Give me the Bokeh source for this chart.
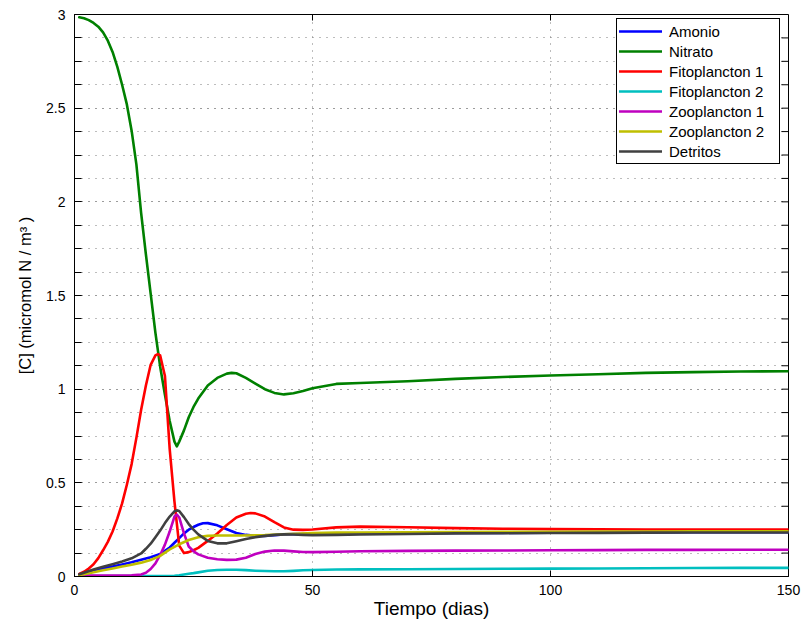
import math
from bokeh.plotting import figure
from bokeh.models import (Range1d, FixedTicker, Legend, LegendItem, CustomJSTickFormatter)
from bokeh.embed import file_html
from bokeh.resources import INLINE

# ---------------- data ----------------
t_amonio = [1, 2, 4, 6, 8, 10, 12, 14, 16, 18, 20, 21, 22, 23, 24, 25, 26, 27, 28, 30,
            32, 34, 36, 38, 40, 42, 44, 46, 48, 50, 55, 60, 70, 80, 90, 100, 110, 120,
            130, 140, 150]
amonio = [0.012, 0.016, 0.03, 0.042, 0.053, 0.064, 0.076, 0.09, 0.103, 0.12, 0.155, 0.18,
          0.205, 0.23, 0.25, 0.264, 0.276, 0.284, 0.285, 0.273, 0.252, 0.232, 0.222, 0.217,
          0.216, 0.22, 0.225, 0.227, 0.226, 0.225, 0.227, 0.229, 0.23, 0.232, 0.233, 0.234,
          0.235, 0.235, 0.236, 0.236, 0.236]

t_nitrato = [1, 2, 3, 4, 5, 6, 7, 8, 9, 10, 11, 12, 13, 14, 15, 16, 17, 18, 19, 20, 21,
             21.5, 22, 23, 24, 25, 26, 28, 30, 32, 33, 34, 36, 38, 40, 42, 44, 46, 48, 50,
             55, 60, 70, 80, 90, 100, 110, 120, 130, 140, 150]
nitrato = [2.985, 2.98, 2.97, 2.955, 2.935, 2.905, 2.86, 2.80, 2.72, 2.625, 2.52, 2.38,
           2.20, 1.94, 1.72, 1.51, 1.30, 1.12, 0.97, 0.83, 0.72, 0.695, 0.72, 0.78, 0.85,
           0.905, 0.95, 1.02, 1.06, 1.083, 1.087, 1.085, 1.06, 1.03, 1.00, 0.98, 0.972,
           0.978, 0.99, 1.005, 1.028, 1.033, 1.042, 1.055, 1.065, 1.073, 1.08, 1.087, 1.091,
           1.094, 1.096]

t_fito1 = [1, 2, 3, 4, 5, 6, 7, 8, 9, 10, 11, 12, 13, 14, 15, 16, 17, 17.5, 18, 19, 20, 21,
           22, 23, 24, 25, 26, 28, 30, 32, 34, 36, 37, 38, 40, 42, 44, 46, 48, 50, 55, 60,
           70, 80, 90, 100, 110, 120, 130, 140, 150]
fito1 = [0.014, 0.025, 0.043, 0.065, 0.098, 0.14, 0.185, 0.24, 0.31, 0.39, 0.49, 0.60,
         0.74, 0.89, 1.02, 1.13, 1.18, 1.187, 1.18, 1.07, 0.68, 0.40, 0.165, 0.125, 0.13,
         0.14, 0.153, 0.19, 0.23, 0.275, 0.315, 0.335, 0.339, 0.337, 0.32, 0.29, 0.262,
         0.25, 0.249, 0.251, 0.262, 0.266, 0.263, 0.258, 0.255, 0.253, 0.252, 0.251, 0.25,
         0.25, 0.25]

t_fito2 = [1, 5, 10, 15, 18, 20, 21, 22, 23, 24, 25, 26, 28, 30, 32, 34, 36, 38, 40, 42,
           44, 46, 48, 50, 55, 60, 70, 80, 90, 100, 110, 120, 130, 140, 150]
fito2 = [0.002, 0.002, 0.002, 0.002, 0.002, 0.003, 0.004, 0.007, 0.011, 0.015, 0.018, 0.022,
         0.031, 0.035, 0.036, 0.036, 0.034, 0.031, 0.029, 0.028, 0.028, 0.03, 0.033, 0.035,
         0.037, 0.038, 0.039, 0.04, 0.041, 0.042, 0.043, 0.044, 0.045, 0.046, 0.046]

t_zoo1 = [1, 4, 8, 12, 14, 15, 16, 17, 18, 19, 20, 21, 21.5, 22, 23, 24, 25, 26, 28, 30, 32,
          34, 36, 38, 40, 42, 44, 46, 48, 50, 55, 60, 70, 80, 90, 100, 110, 120, 130, 140, 150]
zoo1 = [0.005, 0.005, 0.005, 0.006, 0.011, 0.02, 0.04, 0.07, 0.115, 0.17, 0.24, 0.32, 0.33,
        0.315, 0.23, 0.16, 0.135, 0.118, 0.1, 0.092, 0.089, 0.09, 0.1, 0.12, 0.133, 0.139,
        0.138, 0.134, 0.131, 0.13, 0.132, 0.135, 0.137, 0.138, 0.139, 0.14, 0.141, 0.142,
        0.142, 0.143, 0.143]

t_zoo2 = [1, 2, 4, 6, 8, 10, 12, 14, 16, 18, 20, 22, 24, 26, 28, 30, 35, 40, 45, 50, 55, 60,
          70, 80, 90, 100, 110, 120, 130, 140, 150]
zoo2 = [0.008, 0.012, 0.023, 0.033, 0.043, 0.053, 0.063, 0.074, 0.088, 0.11, 0.145, 0.172,
        0.195, 0.21, 0.217, 0.219, 0.219, 0.221, 0.227, 0.232, 0.234, 0.235, 0.236, 0.237,
        0.238, 0.239, 0.24, 0.24, 0.241, 0.241, 0.241]

t_detritos = [1, 2, 4, 6, 8, 10, 12, 14, 15, 16, 17, 18, 19, 20, 21, 21.5, 22, 23, 24, 25,
              26, 28, 30, 32, 34, 36, 38, 40, 42, 44, 46, 48, 50, 55, 60, 70, 80, 90, 100,
              110, 120, 130, 140, 150]
detritos = [0.012, 0.02, 0.037, 0.052, 0.066, 0.08, 0.097, 0.123, 0.148, 0.175, 0.21, 0.245,
            0.285, 0.32, 0.348, 0.353, 0.35, 0.317, 0.28, 0.25, 0.225, 0.19, 0.177, 0.177,
            0.188, 0.2, 0.21, 0.217, 0.222, 0.225, 0.224, 0.222, 0.221, 0.222, 0.224, 0.227,
            0.23, 0.231, 0.232, 0.233, 0.234, 0.235, 0.235, 0.235]

series_names = ["Amonio", "Nitrato", "Fitoplancton 1", "Fitoplancton 2",
                "Zooplancton 1", "Zooplancton 2", "Detritos"]
series_t = [t_amonio, t_nitrato, t_fito1, t_fito2, t_zoo1, t_zoo2, t_detritos]
series_y = [amonio, nitrato, fito1, fito2, zoo1, zoo2, detritos]
series_colors = ["#0000FF", "#008000", "#FF0000", "#00BFBF", "#BF00BF", "#BFBF00", "#404040"]

x_start, x_end = 0, 150
y_start, y_end = 0, 3
x_ticks = [0, 50, 100, 150]
y_ticks = [0, 0.5, 1, 1.5, 2, 2.5, 3]
y_minor = [i * 0.125 for i in range(25)]

FONT = "Liberation Sans"

# ---------------- figure ----------------
p = figure(width=804, height=623, output_backend="svg", toolbar_location=None,
           x_range=Range1d(x_start, x_end), y_range=Range1d(y_start, y_end),
           min_border_left=74, min_border_right=16, min_border_top=14, min_border_bottom=47)
p.background_fill_color = "white"
p.border_fill_color = "white"
p.outline_line_color = "black"
p.outline_line_width = 1

xticker = FixedTicker(ticks=x_ticks, minor_ticks=[])
yticker = FixedTicker(ticks=y_ticks, minor_ticks=y_minor)
fmt = CustomJSTickFormatter(code="return String(tick);")

xa = p.xaxis[0]
xa.ticker = xticker
xa.formatter = fmt
ya = p.yaxis[0]
ya.ticker = yticker
ya.formatter = fmt

for ax in (xa, ya):
    ax.axis_line_color = "black"
    ax.major_tick_line_color = "black"
    ax.minor_tick_line_color = "black"
    ax.major_tick_out = 0
    ax.minor_tick_out = 0
    ax.major_tick_in = 7
    ax.minor_tick_in = 7
    ax.major_label_text_font = FONT
    ax.major_label_text_font_size = "14px"
    ax.major_label_text_color = "black"
    ax.axis_label_text_font = FONT
    ax.axis_label_text_font_style = "normal"
    ax.axis_label_text_color = "black"
xa.minor_tick_line_color = None
xa.major_tick_in = 6
xa.major_label_standoff = 8
xa.axis_label = "Tiempo (dias)"
xa.axis_label_text_font_size = "19px"
xa.axis_label_standoff = 0
ya.major_label_standoff = 9
ya.axis_label = "[C] (micromol N / m³ )"
ya.axis_label_text_font_size = "16.5px"
ya.axis_label_standoff = 9

# grids (dotted)
p.xgrid.ticker = FixedTicker(ticks=[50, 100])
p.ygrid.ticker = yticker
for g in (p.xgrid[0], p.ygrid[0]):
    g.grid_line_color = "#7a7a7a"
    g.grid_line_dash = "1 6"
    g.grid_line_width = 1
p.ygrid[0].minor_grid_line_color = "#7a7a7a"
p.ygrid[0].minor_grid_line_dash = "1 6"
p.ygrid[0].minor_grid_line_width = 1

# inward tick marks on the top and right edges of the box
p.ray(x=[x_end] * len(y_minor), y=y_minor, length=7, length_units="screen",
      angle=math.pi, line_color="black", line_width=1)
p.ray(x=x_ticks[1:-1], y=[y_end] * len(x_ticks[1:-1]), length=6, length_units="screen",
      angle=-math.pi / 2, line_color="black", line_width=1)

# lines
items = []
for name, tt, yy, col in zip(series_names, series_t, series_y, series_colors):
    r = p.line(tt, yy, line_color=col, line_width=2.6, line_join="round", line_cap="round")
    items.append(LegendItem(label=name, renderers=[r]))

legend = Legend(items=items, location=(542, 412), orientation="vertical",
                border_line_color="black", border_line_width=1, border_line_alpha=1,
                background_fill_color="white", background_fill_alpha=1,
                label_text_font=FONT, label_text_font_size="15px", label_text_color="black",
                glyph_width=43, glyph_height=20, label_height=20, label_width=108,
                label_standoff=7, spacing=0, padding=2, margin=0)
p.add_layout(legend)

open("out.html", "w").write(file_html(p, INLINE))
